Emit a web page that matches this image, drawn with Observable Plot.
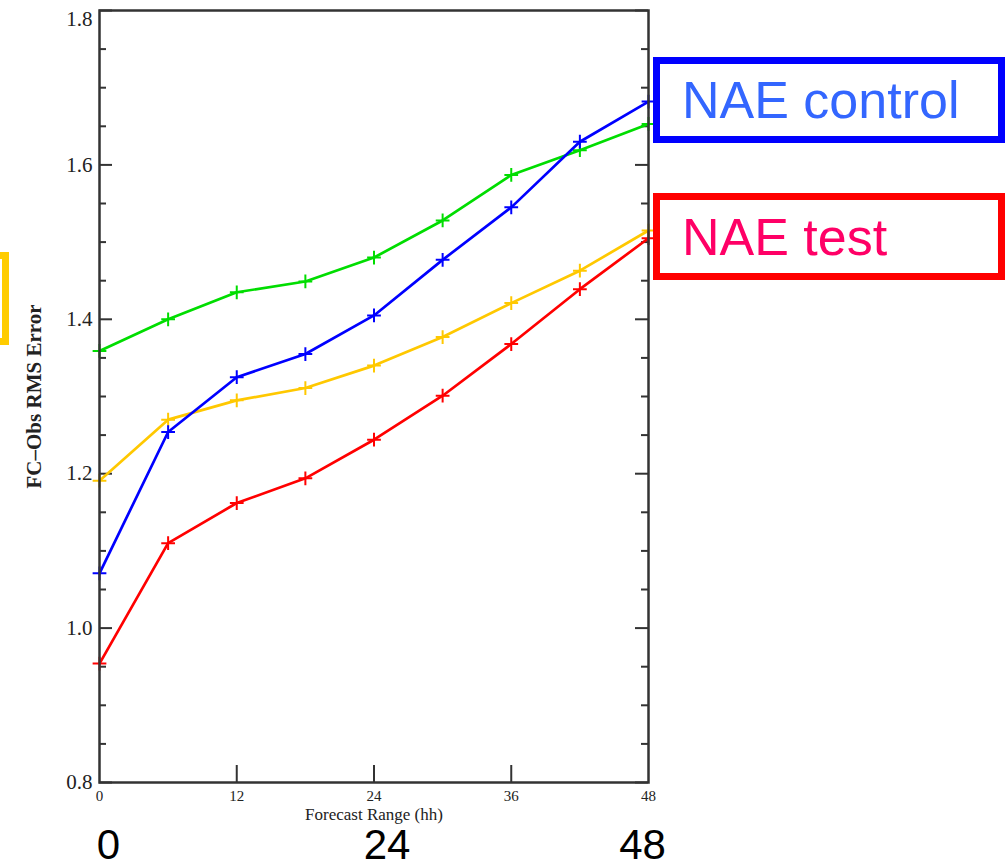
<!DOCTYPE html>
<html><head><meta charset="utf-8">
<script src="https://cdn.jsdelivr.net/npm/d3@7"></script>
<script src="https://cdn.jsdelivr.net/npm/@observablehq/plot@0.6"></script>
<style>
html,body{margin:0;padding:0;background:#fff;overflow:hidden}
#wrap{position:relative;width:1006px;height:867px;overflow:hidden}
#wrap svg{position:absolute;left:0;top:0}
.box{position:absolute;box-sizing:border-box;border:7px solid;font-family:"Liberation Sans",Arial,sans-serif;font-size:52px;display:flex;align-items:center;padding-left:22px;white-space:nowrap;background:#fff}
</style></head><body><div id="wrap"></div>
<script>
// ---- data ----
const forecastHours = [0, 6, 12, 18, 24, 30, 36, 42, 48];
const greenSeries  = [1.359, 1.400, 1.435, 1.449, 1.480, 1.528, 1.587, 1.619, 1.653];
const orangeSeries = [1.191, 1.270, 1.295, 1.311, 1.340, 1.377, 1.421, 1.463, 1.515];
const controlSeries = [1.071, 1.254, 1.325, 1.355, 1.405, 1.477, 1.545, 1.630, 1.682]; // NAE control (blue)
const testSeries   = [0.954, 1.110, 1.162, 1.194, 1.244, 1.301, 1.368, 1.439, 1.505];   // NAE test (red)

const yMajorTicks = [0.8, 1.0, 1.2, 1.4, 1.6, 1.8];
const yMinorTicks = [0.85, 0.9, 0.95, 1.05, 1.1, 1.15, 1.25, 1.3, 1.35, 1.45, 1.5, 1.55, 1.65, 1.7, 1.75];
const xMajorTicks = [12, 24, 36];
const xTickLabels = [0, 12, 24, 36, 48];
const bigLabels = ["0", "24", "48"];
const yTitle = "FC\u2013Obs RMS Error";
const xTitle = "Forecast Range (hh)";
const legendLabels = ["NAE control", "NAE test"];

// ---- layout ----
const W = 1006, H = 867;
const mL = 99, mR = 358, mT = 10, mB = 85;
const pW = W - mL - mR, pH = H - mT - mB;
const axisColor = "#333";
const serif = "Liberation Serif, Times New Roman, serif";
const sans = "Liberation Sans, Arial, sans-serif";

const rows = (vals) => forecastHours.map((h, i) => ({h, v: vals[i]}));
const series = [
  {vals: greenSeries, color: "#00dd00"},
  {vals: orangeSeries, color: "#ffc800"},
  {vals: controlSeries, color: "#0000ff"},
  {vals: testSeries, color: "#ff0000"}
];

const seriesMarks = series.flatMap(s => [
  Plot.line(rows(s.vals), {x: "h", y: "v", stroke: s.color, strokeWidth: 2.7}),
  Plot.dot(rows(s.vals), {x: "h", y: "v", symbol: "plus", r: 4.5, stroke: s.color, strokeWidth: 2, fill: "none"})
]);

const topTick = yMajorTicks[yMajorTicks.length - 1];
const yLabelStyle = {frameAnchor: "left", textAnchor: "end", dx: -7, fontSize: 21, fontFamily: serif, fill: "#222", text: d => d.toFixed(1)};

const chart = Plot.plot({
  width: W, height: H,
  marginLeft: mL, marginRight: mR, marginTop: mT, marginBottom: mB,
  x: {domain: [0, 48], axis: null},
  y: {domain: [0.8, 1.8], axis: null},
  style: {background: "white", overflow: "visible"},
  marks: [
    // ticks (inward, left & right)
    Plot.tickY(yMinorTicks, {y: d => d, stroke: axisColor, strokeWidth: 2, insetRight: pW - 7}),
    Plot.tickY(yMinorTicks, {y: d => d, stroke: axisColor, strokeWidth: 2, insetLeft: pW - 7}),
    Plot.tickY(yMajorTicks, {y: d => d, stroke: axisColor, strokeWidth: 2, insetRight: pW - 13}),
    Plot.tickY(yMajorTicks, {y: d => d, stroke: axisColor, strokeWidth: 2, insetLeft: pW - 13}),
    Plot.tickX(xMajorTicks, {x: d => d, stroke: axisColor, strokeWidth: 2, insetTop: pH - 17}),
    ...seriesMarks,
    Plot.frame({stroke: axisColor, strokeWidth: 2.5}),
    // tick labels
    Plot.text(yMajorTicks.filter(d => d !== topTick), {y: d => d, ...yLabelStyle}),
    Plot.text([topTick], {y: d => d, ...yLabelStyle, dy: 9}),
    Plot.text(xTickLabels, {x: d => d, text: d => String(d), frameAnchor: "bottom", dy: 14, lineAnchor: "middle", fontSize: 15, fontFamily: serif, fill: "#222"}),
    // axis titles
    Plot.text([yTitle], {text: d => d, frameAnchor: "left", textAnchor: "middle", lineAnchor: "middle", dx: -65, rotate: -90, fontSize: 21, fontWeight: "bold", fontFamily: serif, fill: "#222"}),
    Plot.text([xTitle], {text: d => d, frameAnchor: "bottom", textAnchor: "middle", dy: 32, lineAnchor: "middle", fontSize: 17, fontFamily: serif, fill: "#222"}),
    // big overlay numbers
    Plot.text([bigLabels[0]], {x: d => +d, text: d => d, frameAnchor: "bottom", dy: 63, dx: 9, lineAnchor: "middle", fontSize: 42, fontFamily: sans, fill: "#000"}),
    Plot.text([bigLabels[1]], {x: d => +d, text: d => d, frameAnchor: "bottom", dy: 63, dx: 13, lineAnchor: "middle", fontSize: 42, fontFamily: sans, fill: "#000"}),
    Plot.text([bigLabels[2]], {x: d => +d, text: d => d, frameAnchor: "bottom", dy: 63, dx: -6, lineAnchor: "middle", fontSize: 42, fontFamily: sans, fill: "#000"})
  ]
});

const wrap = document.getElementById("wrap");
wrap.appendChild(chart);

function addBox(text, left, top, width, height, border, color) {
  const d = document.createElement("div");
  d.className = "box";
  Object.assign(d.style, {left: left + "px", top: top + "px", width: width + "px", height: height + "px", borderColor: border, color: color});
  d.textContent = text;
  wrap.appendChild(d);
}
addBox(legendLabels[0], 653, 57, 352, 86, "#0000ff", "#3366ff");
addBox(legendLabels[1], 653, 193, 352, 87, "#ff0000", "#ff0066");
// partially visible orange box at the left edge
addBox("", -100, 252, 109, 93, "#ffcc00", "#000");
</script>
</body></html>
